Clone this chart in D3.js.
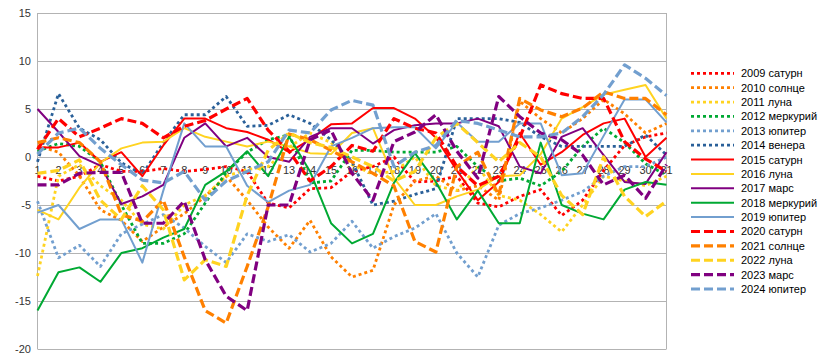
<!DOCTYPE html>
<html>
<head>
<meta charset="utf-8">
<script src="https://cdn.jsdelivr.net/npm/d3@7"></script>
<style>
  body { margin: 0; background: #fff; }
  text { font-family: "Liberation Sans", Arial, sans-serif; }
</style>
</head>
<body>
<div id="chart"></div>
<script>
// categories (days of month)
const days = [1,2,3,4,5,6,7,8,9,10,11,12,13,14,15,16,17,18,19,20,21,22,23,24,25,26,27,28,29,30,31];
const yTicks = [-20, -15, -10, -5, 0, 5, 10, 15];

const names = ["2009 сатурн", "2010 солнце", "2011 луна", "2012 меркурий", "2013 юпитер", "2014 венера",
  "2015 сатурн", "2016 луна", "2017 марс", "2018 меркурий", "2019 юпитер",
  "2020 сатурн", "2021 солнце", "2022 луна", "2023 марс", "2024 юпитер"];

// values
const s2009 = [-2, -2.5, -2, -0.8, -1.5, -1.5, -1.2, -1.5, -1.3, -1.0, -1.5, -4.8, -5.3, -3.3, -3.2, -1.5, -1.0, 0, -2.6, -2.5, -2, -4.8, -5.2, -4.1, -3.4, -6.1, -4.5, -1.4, 1.2, 2.1, 2.5];
const s2010 = [1.2, 0.5, -2, -5.5, -6.6, -8.8, -7.3, -5.9, -4.1, -2.0, -4.5, -7.3, -9.5, -6.6, -10.4, -12.5, -11.8, -5, -2.5, -2, -3.5, -3, -4.5, 5.8, 4, 2.5, 4, 6, 4.5, 2.5, 3.5];
const s2011 = [-12.4, -2, -0.8, -3, -4.5, -7, -7.5, -5, -4, -2, -1.3, -1, 1, 2.5, 1.5, -0.8, -1.8, -1.5, 0, -3, -3.5, -1, -4, -4.5, -6, -7.8, -5, -2, -2.5, -3, -2];
const s2012 = [0.6, 1.4, 1.1, -0.5, -5, -9, -9, -8, -4.8, -1.6, 0.5, 1.8, 2.3, -2.7, -2.5, 0.7, 0.7, 0.5, 0.5, 0.5, 1.1, -1, -2.5, -2.2, -3, -1.5, 1.1, 3.0, 1.5, -0.7, -1.9];
const s2013 = [-4.6, -10.5, -9.2, -11.4, -8, -7, -6, -7.4, -9.3, -11, -8, -8.8, -8.1, -9.9, -9, -6.7, -9.5, -8.3, -7.4, -5.9, -10, -12.5, -7.1, -5.9, -5.3, -4.5, -3.6, -2, -1, -1, 0];
const s2014 = [-0.5, 6.6, 3.0, 1.8, -0.6, -1.8, 1.5, 4.4, 4.4, 6.3, 3.2, 3.3, 4.4, 3.5, 1.8, -0.5, -5, -4.6, -3.9, -3.3, 4.0, 4.0, 4.0, 3.6, 2.1, 1.1, 1.1, 1.1, 1.1, 2.3, 0.2];
const s2015 = [1.0, 1.0, 1.5, -0.5, 0.5, -2.0, 1.2, 4.0, 4.0, 3.0, 2.6, 1.8, 0.5, 1.8, 3.4, 3.5, 5.1, 5.1, 4.0, 2.0, -1.4, -4.5, -2.6, 2.5, -0.8, 0.5, 2.3, 3.5, 4.0, 0.0, 2.0];
const s2016 = [-5.5, -6.5, -3.2, -0.6, 0.9, 1.5, 1.6, 3.0, 2.1, 1.6, 1.1, 1.6, 1.1, 0.4, 0.3, 2.5, 3.0, -2.2, -5, -5, -4.1, -3.4, -2.0, -1.9, 0.3, 4.0, 5.2, 6.5, 7.0, 7.5, 4.0];
const s2017 = [5.0, 2.6, 0.1, -0.9, -4.9, -4.1, -2.9, 2.0, 3.5, 1.1, 2.0, 0, -0.5, 2.1, 3.0, 3.0, 1.4, 2.8, 3.3, 3.5, 3.5, 4.0, 3.2, -1.0, -1.7, 2.1, 3.0, 0.2, -2.6, -2.8, 0.5];
const s2018 = [-16, -12, -11.5, -13, -10, -9.5, -8.4, -7.5, -2.9, -1.5, 0.6, -2.0, 2.1, -1.5, -6.9, -9.0, -8.0, -2.7, 0.4, -2.6, -6.5, -3.5, -6.9, -6.9, 1.5, -5.0, -5.9, -6.5, -3.4, -2.6, -2.9];
const s2019 = [-5.8, -5.0, -7.5, -6.5, -6.5, -11.0, -3.5, 3.5, 1.1, 1.1, -3.0, -4.7, -3.5, -2.9, 1.1, 2.0, 3.0, 3.1, 3.1, 0.9, 3.6, 1.6, 1.6, 3.5, 3.5, -1.9, -1.7, 2.2, 6.0, 6.0, 3.6];
const s2020 = [0.8, 4.0, 2.1, 3.0, 4.0, 3.5, 2.0, 3.2, 3.8, 5.0, 6.1, 2.8, 0.6, -2.5, -1, 1.2, 0.6, 4.0, 3.0, 2.5, -1, -3, -2, 2, 7.5, 6.6, 6.1, 6.1, 1.6, -0.2, -1.5];
const s2021 = [1.5, 2.0, 1.5, -0.5, -6.0, -6.7, -4.5, -10.4, -16, -17.3, -11.4, -5.2, 2.4, 1.8, 0.7, -0.5, -1.7, -3, -8.8, -9.9, -1, 0.5, -4, 6.1, 4.9, 4.2, 5.1, 6.8, 6.1, 6.1, 4.4];
const s2022 = [-1.7, -1.4, -0.3, -4.5, -6.5, -3, -5.5, -12.8, -10.7, -11.4, -4, 0.7, 2.5, 1.5, 1.0, 0, -1, -2.5, -1.5, 2, 3.5, 1.5, -0.5, 1.5, 0, -4, -6, 0, -4.1, -6.2, -4.6];
const s2023 = [-2.9, -2.9, -1.7, -1.6, -1.6, -6.9, -6.9, -4.6, -10.7, -14.5, -16, -5, -5, 1.8, 2.8, -1.7, -4.5, 1.6, 2.6, 4.4, 0.6, -2.2, 6.3, 4.2, 2.5, 1.8, 0.2, -2.9, -1.9, -4.3, -0.8];
const s2024 = [0.3, 2.5, 3.0, 0.9, -0.8, -2.4, -2.7, -1.5, -4.5, -2.5, -1.5, -0.5, 2.8, 2.5, 4.9, 5.9, 5.4, -1.0, 0.5, 1.2, 3.8, 3.5, 2.8, 2.1, 2.1, 2.5, 4.2, 6.5, 9.6, 8.2, 6.4];

const allSeries = [s2009, s2010, s2011, s2012, s2013, s2014, s2015, s2016, s2017, s2018, s2019, s2020, s2021, s2022, s2023, s2024];

// styles
const colors = ["#ff0000", "#ff8000", "#ffd320", "#00a933", "#729fcf", "#2a6099",
  "#ff0000", "#ffd320", "#800080", "#00a933", "#729fcf",
  "#ff0000", "#ff8000", "#ffd320", "#800080", "#729fcf"];
const kinds = ["dot","dot","dot","dot","dot","dot","solid","solid","solid","solid","solid","dash","dash","dash","dash","dash"];
const lineStyle = {
  dot:   { w: 2.8, dash: "3,3" },
  solid: { w: 2,   dash: null },
  dash:  { w: 3.2, dash: "9,4" }
};

const width = 819, height = 363;
const plot = { left: 37.5, right: 666.5, top: 13, bottom: 349 };

const svg = d3.select("#chart").append("svg")
  .attr("width", width)
  .attr("height", height);

const x = d3.scalePoint()
  .domain(days)
  .range([plot.left, plot.right]);

const y = d3.scaleLinear()
  .domain([-20, 15])
  .range([plot.bottom, plot.top]);

// grid lines
svg.append("g")
  .selectAll("line")
  .data(yTicks)
  .enter().append("line")
  .attr("x1", plot.left).attr("x2", plot.right)
  .attr("y1", d => Math.round(y(d)) + 0.5).attr("y2", d => Math.round(y(d)) + 0.5)
  .attr("stroke", "#b3b3b3")
  .attr("stroke-width", 1);

// plot border
svg.append("line")
  .attr("x1", plot.left).attr("x2", plot.left)
  .attr("y1", plot.top).attr("y2", plot.bottom)
  .attr("stroke", "#b3b3b3");
svg.append("line")
  .attr("x1", plot.right).attr("x2", plot.right)
  .attr("y1", plot.top).attr("y2", plot.bottom)
  .attr("stroke", "#b3b3b3");

// y labels
svg.append("g")
  .selectAll("text")
  .data(yTicks)
  .enter().append("text")
  .attr("x", 31)
  .attr("y", d => y(d) + 4)
  .attr("text-anchor", "end")
  .attr("font-size", 11)
  .attr("fill", "#333")
  .text(d => d);

// x labels sit under the lines, along the zero line
svg.append("g")
  .selectAll("text")
  .data(days)
  .enter().append("text")
  .attr("x", d => x(d))
  .attr("y", y(0) + 17)
  .attr("text-anchor", "middle")
  .attr("font-size", 11)
  .attr("fill", "#333")
  .text(d => d);

// series lines
const line = d3.line()
  .x((d, i) => x(days[i]))
  .y(d => y(d));

svg.append("g")
  .selectAll("path")
  .data(allSeries)
  .enter().append("path")
  .attr("d", d => line(d))
  .attr("fill", "none")
  .attr("stroke", (d, i) => colors[i])
  .attr("stroke-width", (d, i) => lineStyle[kinds[i]].w)
  .attr("stroke-dasharray", (d, i) => lineStyle[kinds[i]].dash)
  .attr("stroke-linejoin", "round");

// legend
const legend = svg.append("g")
  .selectAll("g")
  .data(names)
  .enter().append("g")
  .attr("transform", (d, i) => `translate(691, ${73.3 + i * 14.38})`);

legend.append("line")
  .attr("x1", 0).attr("x2", 43)
  .attr("y1", 0).attr("y2", 0)
  .attr("stroke", (d, i) => colors[i])
  .attr("stroke-width", (d, i) => lineStyle[kinds[i]].w)
  .attr("stroke-dasharray", (d, i) => lineStyle[kinds[i]].dash);

legend.append("text")
  .attr("x", 50)
  .attr("y", 4)
  .attr("font-size", 11)
  .attr("fill", "#000")
  .text(d => d);
</script>
</body>
</html>
